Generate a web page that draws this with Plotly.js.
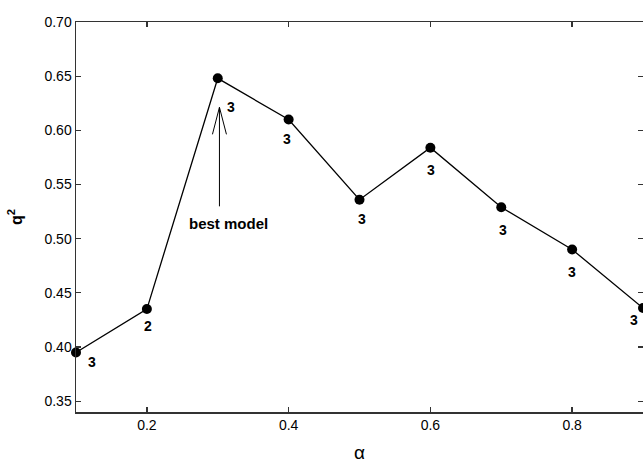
<!DOCTYPE html>
<html>
<head>
<meta charset="utf-8">
<script src="https://cdn.plot.ly/plotly-3.0.1.min.js"></script>
<style>html,body{margin:0;padding:0;background:#fff;}#chart{width:643px;height:463px;}</style>
</head>
<body>
<div id="chart"></div>
<script>
// Data
const alpha = [0.1, 0.2, 0.3, 0.4, 0.5, 0.6, 0.7, 0.8, 0.9];
const q2 = [0.395, 0.435, 0.648, 0.610, 0.536, 0.584, 0.529, 0.490, 0.436];
const counts = ["3", "2", "3", "3", "3", "3", "3", "3", "3"];
const xTicks = [0.2, 0.4, 0.6, 0.8];
const yTicks = [0.35, 0.40, 0.45, 0.50, 0.55, 0.60, 0.65, 0.70];
const bestIndex = 2;
const bestLabel = "best model";

// label offsets (pixels) for each count label
const labelShift = [[16, -10], [1, -17], [13, -29], [-2, -19], [2, -19], [1, -22], [2, -23], [0, -22], [-9, -12]];

const font = "Liberation Sans, Arial, Helvetica, sans-serif";

const annotations = alpha.map((a, i) => ({
  x: a, y: q2[i], xref: 'x', yref: 'y', text: '<b>' + counts[i] + '</b>',
  showarrow: false, xshift: labelShift[i][0], yshift: labelShift[i][1],
  font: {family: font, size: 14, color: '#000'}
}));
annotations.push({
  x: alpha[bestIndex], y: q2[bestIndex], xref: 'x', yref: 'y',
  text: '<b>' + bestLabel + '</b>', showarrow: false, xshift: 11, yshift: -145,
  font: {family: font, size: 15, color: '#000'}
});

const shapes = [{
  type: 'path', xref: 'x', yref: 'y', xsizemode: 'pixel', ysizemode: 'pixel',
  xanchor: alpha[bestIndex], yanchor: q2[bestIndex],
  path: 'M1.7,-128 L1.7,-29 M-5.3,-56 L1.7,-29 L8.7,-56',
  line: {color: '#000', width: 1}
}];

const trace = {
  x: alpha, y: q2, type: 'scatter', mode: 'lines+markers',
  line: {color: '#000', width: 1.3},
  marker: {color: '#000', size: 10},
  cliponaxis: false, showlegend: false
};

const axisCommon = {
  showgrid: false, zeroline: false, showline: true, linecolor: '#333', linewidth: 1.5,
  ticks: 'inside', ticklen: 5, tickwidth: 1.3, tickcolor: '#333', mirror: 'allticks',
  tickfont: {family: font, size: 14, color: '#000'}
};

const layout = {
  width: 643, height: 463,
  margin: {l: 76, r: 0, t: 22, b: 51},
  paper_bgcolor: '#fff', plot_bgcolor: '#fff',
  xaxis: Object.assign({}, axisCommon, {
    range: [0.1, 0.9], tickvals: xTicks, ticktext: xTicks.map(v => v.toFixed(1)),
    title: {text: 'α', font: {family: font, size: 19, color: '#000'}, standoff: 16}
  }),
  yaxis: Object.assign({}, axisCommon, {
    range: [0.34, 0.70], tickvals: yTicks, ticktext: yTicks.map(v => v.toFixed(2)),
    title: {text: '<b>q<sup>2</sup></b>', font: {family: font, size: 16, color: '#000'}, standoff: 18}
  }),
  annotations: annotations,
  shapes: shapes
};

Plotly.newPlot('chart', [trace], layout, {displayModeBar: false, staticPlot: true});
</script>
</body>
</html>
